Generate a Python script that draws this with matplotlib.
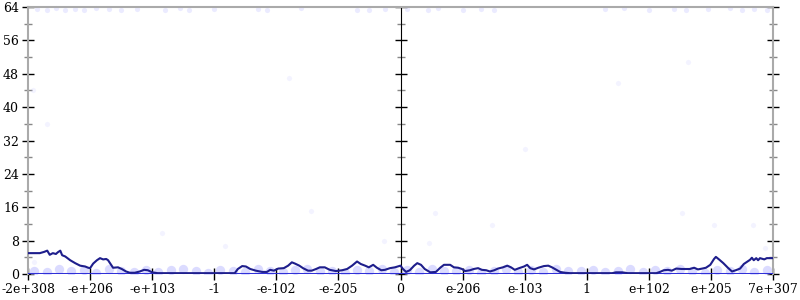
import matplotlib
matplotlib.use("Agg")
import matplotlib.pyplot as plt
from matplotlib.ticker import MultipleLocator, NullFormatter

# x axis in position units: 13 ticks spaced by 10 (0..120)
tick_pos = [0, 10, 20, 30, 40, 50, 60, 70, 80, 90, 100, 110, 120]
tick_labels = ["-2e+308", "-e+206", "-e+103", "-1", "-e-102", "-e-205", "0",
               "e-206", "e-103", "1", "e+102", "e+205", "7e+307"]

line_x = [0, 1.9, 2.6, 3.1, 3.5, 4.0, 4.5, 4.8, 5.2, 5.5, 6.0, 6.8, 7.6, 8.4, 9.2, 9.7,
          10.0, 10.5, 11.1, 11.6, 12.1, 12.6, 12.9, 13.4, 13.7, 14.5, 15.1, 15.8, 16.4,
          17.2, 18.0, 18.7, 19.3, 20.0, 20.9, 33.3, 33.8, 34.5, 35.1, 35.8, 36.7, 37.7,
          38.5, 39.0, 39.6, 40.3, 41.2, 41.9, 42.5, 43.0, 43.7, 44.3, 45.1, 45.7, 46.4,
          47.0, 47.8, 48.6, 49.6, 50.6, 51.4, 52.2, 53.0, 53.6, 54.3, 54.9, 55.6, 56.2,
          56.9, 57.5, 58.3, 59.1, 60.0, 60.4, 60.9, 61.5, 62.2, 62.7, 63.3, 63.9, 64.8,
          65.7, 66.4, 67.0, 68.0, 68.6, 69.3, 69.9, 70.4, 71.2, 71.8, 72.5, 73.1, 73.8,
          74.4, 75.1, 75.7, 76.5, 77.2, 77.8, 78.4, 79.1, 79.9, 80.4, 80.9, 81.5, 82.2,
          83.1, 83.8, 84.4, 85.1, 85.7, 86.5, 87.3, 94.1, 94.7, 95.7, 96.6, 101.2, 101.8,
          102.4, 103.1, 103.7, 104.4, 105.3, 106.6, 107.3, 107.9, 108.6, 109.2, 109.9,
          110.5, 110.8, 111.3, 112.0, 112.8, 113.4, 114.0, 114.7, 115.3, 116.0, 116.3,
          116.6, 116.9, 117.3, 117.6, 117.9, 118.6, 119.0, 120.0]
line_y = [5.0, 5.0, 5.3, 5.6, 4.6, 5.0, 4.8, 5.2, 5.6, 4.5, 4.2, 3.3, 2.6, 2.0, 1.8, 1.5,
          1.4, 2.5, 3.3, 3.8, 3.5, 3.6, 3.3, 2.2, 1.5, 1.6, 1.2, 0.6, 0.3,
          0.3, 0.6, 1.0, 0.9, 0.4, 0.2, 0.2, 1.2, 1.9, 1.8, 1.2, 0.8, 0.5,
          0.5, 1.0, 0.8, 1.3, 1.4, 2.0, 2.8, 2.5, 2.0, 1.4, 0.8, 0.8, 1.2,
          1.6, 1.6, 1.0, 0.7, 0.9, 1.2, 2.0, 3.0, 2.4, 2.0, 1.6, 2.2, 1.5,
          0.9, 1.0, 1.4, 1.6, 2.0, 1.2, 0.5, 0.9, 2.0, 2.6, 2.2, 1.2, 0.4,
          0.5, 1.5, 2.2, 2.2, 1.6, 1.5, 1.2, 0.7, 0.9, 1.2, 1.4, 1.0, 0.9,
          0.6, 0.9, 1.3, 1.6, 2.0, 1.6, 1.0, 1.4, 1.8, 2.2, 1.4, 1.1, 1.5,
          1.9, 2.0, 1.6, 1.0, 0.5, 0.3, 0.2, 0.2, 0.4, 0.4, 0.2, 0.2, 0.5,
          0.9, 1.0, 0.8, 1.3, 1.2, 1.2, 1.5, 1.1, 1.3, 1.5, 2.2,
          3.6, 4.1, 3.5, 2.6, 1.4, 0.6, 0.9, 1.3, 2.4, 3.1, 3.4,
          3.9, 3.3, 3.8, 3.3, 3.8, 3.5, 3.8, 3.8]

# faint points along the bottom band
band_x = [1, 3, 5, 7, 9, 11, 13, 15, 17, 19, 21, 23, 25, 27, 29, 31, 33, 35, 37, 39,
          41, 43, 45, 47, 49, 51, 53, 55, 57, 59, 61, 63, 65, 67, 69, 71, 73, 75, 77, 79,
          81, 83, 85, 87, 89, 91, 93, 95, 97, 99, 101, 103, 105, 107, 109, 111, 113, 115,
          117, 119]
band_y = [0.8, 0.4, 1.1, 0.6, 0.9, 0.3, 1.2, 0.7, 0.5, 1.0, 0.4, 0.9, 1.2, 0.6, 0.3,
          1.0, 0.8, 0.5, 1.1, 0.7, 0.4, 0.9, 1.2, 0.6, 0.8, 0.3, 1.0, 0.7, 1.1, 0.5,
          0.9, 0.4, 1.2, 0.6, 0.8, 1.0, 0.3, 0.7, 1.1, 0.5, 0.9, 0.4, 1.2, 0.6, 0.8,
          1.0, 0.5, 0.7, 1.1, 0.4, 0.9, 0.6, 1.2, 0.8, 0.3, 1.0, 0.7, 1.1, 0.5, 0.9]

# faint points along the top (value 64)
top_x = [1.5, 3.0, 4.5, 6.0, 7.5, 9.0, 11.0, 13.0, 15.0, 17.5, 22.0, 24.5, 26.0, 30.0,
         37.0, 38.5, 44.0, 53.0, 55.0, 57.5, 61.0, 64.5, 66.0, 70.0, 73.0, 75.0,
         93.0, 96.0, 100.0, 104.0, 106.0, 109.5, 113.0, 115.0, 117.0, 119.0]
top_y = [63.6, 63.2, 63.8, 63.4, 63.6, 63.2, 63.8, 63.5, 63.3, 63.6, 63.4, 63.7, 63.2,
         63.5, 63.6, 63.3, 63.7, 63.4, 63.2, 63.6, 63.5, 63.2, 63.7, 63.4, 63.6, 63.3,
         63.5, 63.7, 63.3, 63.6, 63.2, 63.5, 63.7, 63.4, 63.6, 63.3]

# sparse scattered points
misc_x = [0.8, 1.0, 21.6, 31.7, 45.6, 57.3, 64.6, 65.6, 74.8, 105.3, 110.5, 116.8,
          118.7, 95.1, 106.3, 3.0, 42.0, 80.0]
misc_y = [44.0, 2.9, 9.8, 6.7, 15.0, 7.9, 7.4, 14.6, 11.8, 14.6, 11.8, 11.8,
          6.2, 45.8, 50.8, 36.0, 47.0, 30.0]

fig = plt.figure(figsize=(8, 3), dpi=100)
ax = fig.add_axes([28 / 800, 26 / 300, 745 / 800, 267 / 300])

pt_color = (0.75, 0.75, 1.0)
ax.scatter(band_x, band_y, s=45, color=pt_color, alpha=0.55, linewidths=0, zorder=2)
ax.scatter(top_x, top_y, s=14, color=pt_color, alpha=0.3, linewidths=0, zorder=2, clip_on=False)
ax.scatter(misc_x, misc_y, s=14, color=pt_color, alpha=0.18, linewidths=0, zorder=2)
ax.axhline(0, color="#3030d8", lw=2.2, zorder=3)
ax.plot(line_x, line_y, color="#1e1e8c", lw=1.5, zorder=4)

ax.set_xlim(0, 120)
ax.set_ylim(0, 64)

ax.set_xticks(tick_pos)
ax.set_xticklabels(tick_labels)
ax.yaxis.set_major_locator(MultipleLocator(8))
ax.yaxis.set_minor_locator(MultipleLocator(4))

for sp in ["left", "right", "top"]:
    ax.spines[sp].set_color("#aaaaaa")
    ax.spines[sp].set_linewidth(1.5)
ax.spines["bottom"].set_visible(False)

ax.tick_params(axis="both", which="major", direction="inout", length=9, width=1,
               color="black", labelsize=9, pad=2)
ax.tick_params(axis="y", which="minor", direction="inout", length=6, width=1, color="#888888")
ax.tick_params(axis="y", which="both", right=True)
for lab in ax.get_xticklabels() + ax.get_yticklabels():
    lab.set_family("DejaVu Serif")

# middle axis
sec = ax.secondary_yaxis(0.5)
sec.yaxis.set_major_locator(MultipleLocator(8))
sec.yaxis.set_minor_locator(MultipleLocator(4))
sec.yaxis.set_major_formatter(NullFormatter())
sec.spines["left"].set_color("#aaaaaa")
sec.spines["left"].set_linewidth(1.5)
sec.tick_params(which="major", direction="inout", length=9, width=1, color="black",
                labelleft=False, labelright=False)
sec.tick_params(which="minor", direction="inout", length=6, width=1, color="#888888")

fig.savefig("out.png", dpi=100)
